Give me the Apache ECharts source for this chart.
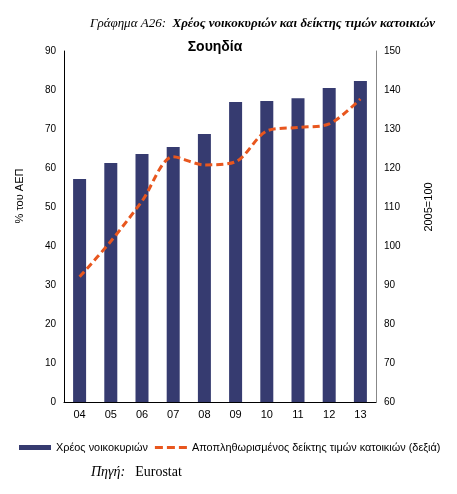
<!DOCTYPE html>
<html><head><meta charset="utf-8">
<script src="https://cdn.jsdelivr.net/npm/echarts@6/dist/echarts.min.js"></script>
<style>html,body{margin:0;padding:0;background:#fff}#c{width:457px;height:494px}</style>
</head><body><div id="c"></div>
<script>
const categories = ['04','05','06','07','08','09','10','11','12','13'];
const debtValues = [57.2, 61.3, 63.6, 65.4, 68.7, 76.9, 77.2, 77.9, 80.5, 82.3];
const priceIndex = [92.1, 101.2, 111.5, 122.9, 120.8, 121.6, 129.5, 130.4, 131.3, 137.7];
const leftTicks = [0, 90, 10];
const rightTicks = [60, 150, 10];
const sans = '"Liberation Sans", Arial, sans-serif';
const serif = '"Liberation Serif", "Times New Roman", serif';
const chart = echarts.init(document.getElementById('c'), null, {renderer: 'canvas'});
chart.setOption({
  animation: false,
  backgroundColor: '#fff',
  title: [
    {text: '{a|Γράφημα Α26:  }{b|Χρέος νοικοκυριών και δείκτης τιμών κατοικιών}', left: 85, top: 12,
     textStyle: {rich: {a: {fontFamily: serif, fontStyle: 'italic', fontWeight: 'normal', fontSize: 13, color: '#000'},
                        b: {fontFamily: serif, fontStyle: 'italic', fontWeight: 'bold', fontSize: 13, color: '#000'}}}},
    {text: 'Σουηδία', left: 210, top: 35, textAlign: 'center', textStyle: {fontFamily: sans, fontWeight: 'bold', fontSize: 14, color: '#000'}},
    {text: '{a|Πηγή:}  {b|Eurostat}', left: 86, top: 458,
     textStyle: {rich: {a: {fontFamily: serif, fontStyle: 'italic', fontWeight: 'normal', fontSize: 14, color: '#000'},
                        b: {fontFamily: serif, fontWeight: 'normal', fontSize: 14, color: '#000'}}}}
  ],
  graphic: [
    {type: 'text', x: 20, y: 196, rotation: Math.PI / 2,
     style: {text: '% του ΑΕΠ', fill: '#000', font: '11px "Liberation Sans", Arial, sans-serif', textAlign: 'center', textVerticalAlign: 'middle'}},
    {type: 'text', x: 429, y: 207, rotation: Math.PI / 2,
     style: {text: '2005=100', fill: '#000', font: '11px "Liberation Sans", Arial, sans-serif', textAlign: 'center', textVerticalAlign: 'middle'}}
  ],
  legend: {
    left: 19, top: 442, width: 440, padding: 0, orient: 'horizontal', itemGap: 7, itemWidth: 32, itemHeight: 5,
    textStyle: {fontFamily: sans, fontSize: 10.9, color: '#000'},
    data: [{name: 'Χρέος νοικοκυριών', icon: 'rect'},
           {name: 'Αποπληθωρισμένος δείκτης τιμών κατοικιών (δεξιά)',
            icon: 'path://M0,0M0,5M0,1h8v3h-8zM12,1h8v3h-8zM24,1h8v3h-8z'}]
  },
  grid: {left: 64, right: 81, top: 51, bottom: 92, containLabel: false, outerBoundsMode: 'none'},
  xAxis: {
    type: 'category', data: categories,
    axisLine: {lineStyle: {color: '#000', width: 1}},
    axisTick: {show: false},
    axisLabel: {fontFamily: sans, fontSize: 11, color: '#000', margin: 7}
  },
  yAxis: [
    {type: 'value', min: leftTicks[0], max: leftTicks[1], interval: leftTicks[2],
     axisLine: {show: true, lineStyle: {color: '#000'}}, axisTick: {show: false},
     splitLine: {show: false},
     axisLabel: {fontFamily: sans, fontSize: 10, color: '#000', margin: 8}},
    {type: 'value', min: rightTicks[0], max: rightTicks[1], interval: rightTicks[2],
     position: 'right',
     axisLine: {show: true, lineStyle: {color: '#888'}}, axisTick: {show: false},
     splitLine: {show: false},
     axisLabel: {fontFamily: sans, fontSize: 10, color: '#000', margin: 8}}
  ],
  series: [
    {name: 'Χρέος νοικοκυριών', type: 'bar', data: debtValues, barWidth: 13,
     itemStyle: {color: '#363B70'}},
    {name: 'Αποπληθωρισμένος δείκτης τιμών κατοικιών (δεξιά)', type: 'line', yAxisIndex: 1,
     data: priceIndex, smooth: 0.3, showSymbol: false, symbol: 'none',
     lineStyle: {color: '#E8561E', width: 3, type: [7, 4]},
     itemStyle: {color: '#E8561E'}}
  ]
});
</script></body></html>
